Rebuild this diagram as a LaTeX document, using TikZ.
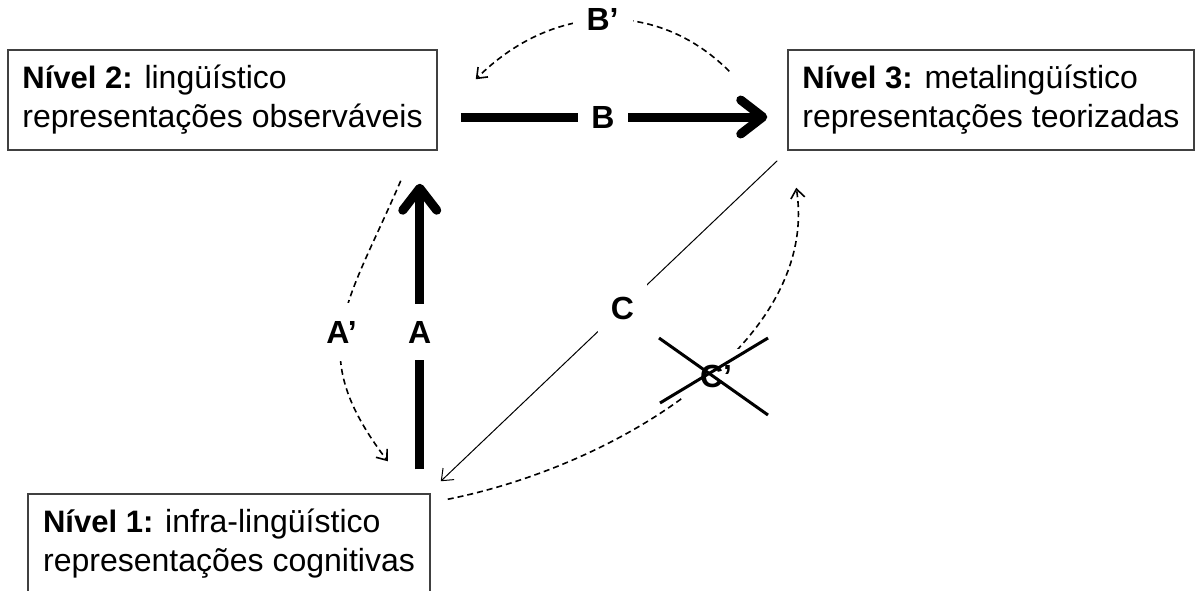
\documentclass[tikz,border=0pt]{standalone}
\usepackage{fontspec}
\setmainfont{Liberation Sans}
\usetikzlibrary{arrows.meta,calc}

\newcommand{\lvhead}[1]{{\fontsize{15.5pt}{19.5pt}\selectfont\bfseries #1}}

\begin{document}
\begin{tikzpicture}[x=0.5pt,y=-0.5pt,
  level/.style={draw=black!75, line width=0.75pt, minimum width=#1,
    minimum height=50pt, inner sep=0pt, align=left,
    font=\fontsize{16pt}{19.5pt}\selectfont},
  lab/.style={fill=white, inner sep=6.5pt,
    font=\fontsize{16pt}{19pt}\selectfont\bfseries},
  main/.style={line width=4.5pt,
    -{Straight Barb[length=11pt,width=17pt,line cap=round,line join=round]}},
  weak/.style={line width=0.8pt, dash pattern=on 3pt off 2pt,
    -{Straight Barb[length=4.5pt,width=7pt]}},
  thin/.style={line width=0.5pt, -{Straight Barb[length=5pt,width=8pt]}},
  strike/.style={line width=1.5pt}]

\useasboundingbox (0,0) rectangle (1196,590);
\clip (0,0) rectangle (1196,590);

% the three levels
\node[level=214.5pt] (n2) at (222.5,100)
  {\lvhead{Nível 2:} lingüístico\\representações observáveis};
\node[level=203pt] (n3) at (991,100)
  {\lvhead{Nível 3:} metalingüístico\\representações teorizadas};
\node[level=201pt] (n1) at (229,544)
  {\lvhead{Nível 1:} infra-lingüístico\\representações cognitivas};

% direct passages
\draw[main] ($(n2.east)+(23,17)$) -- node[lab, pos=0.464] {B}
  ($(n3.west)+(-20,17)$);
\draw[main] ($(n1.north east)+(-11,-24)$) -- node[lab, pos=0.48, inner ysep=8.5pt] {A}
  ($(n2.south east)+(-18,33)$);
\draw[thin] ($(n3.south west)+(-10,10)$) -- node[lab, pos=0.46] {C}
  ($(n1.north east)+(10,-12)$);

% returns
\draw[weak] ($(n3.north west)+(-58,22)$)
  .. controls (655,-3) and (550,5) .. node[lab, pos=0.5, inner xsep=7pt] {B’}
  ($(n2.north east)+(38,30)$);
\draw[weak] ($(n2.south east)+(-37,30)$)
  .. controls (346,308) and (304,351) .. node[lab, pos=0.52, inner ysep=9pt] {A’}
  ($(n1.north east)+(-43,-32)$);
\draw[weak] ($(n1.north east)+(17,6)$)
  .. controls (620,465) and (820,340) ..
  ($(n3.south west)+(9,37)$);
\node[lab, inner sep=8pt] (cq) at (716,376) {C’};

% the crossed-out return
\draw[strike] ($(cq)+(-57,-38)$) -- ($(cq)+(52,39)$);
\draw[strike] ($(cq)+(-56,27)$) -- ($(cq)+(52,-38)$);
\end{tikzpicture}
\end{document}
